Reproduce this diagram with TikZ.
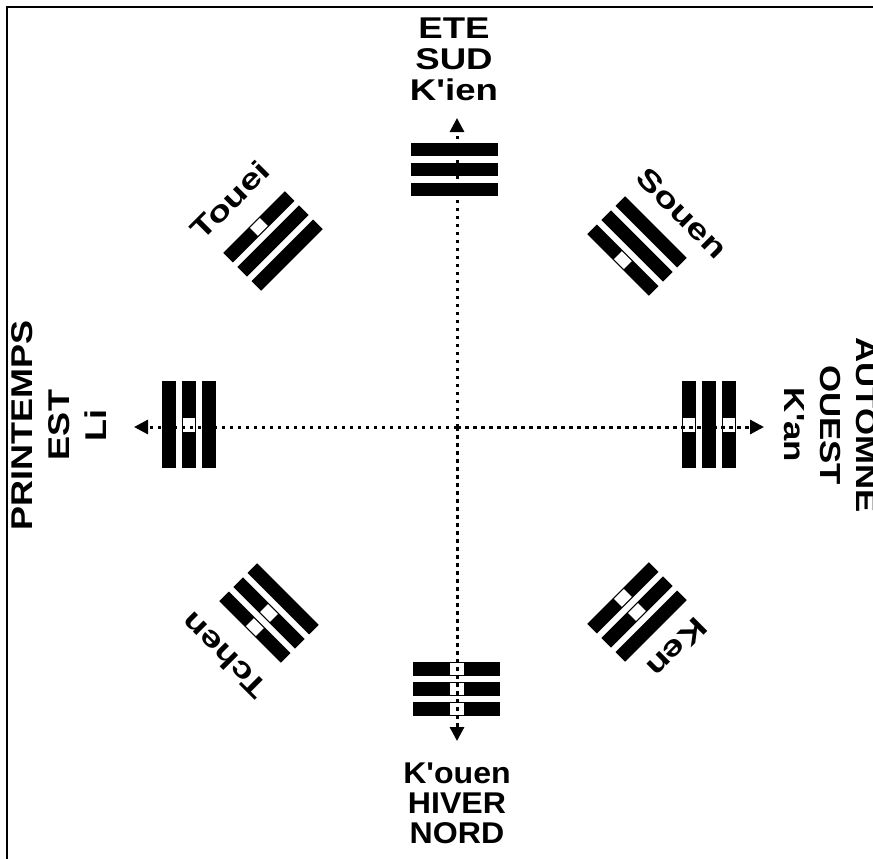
\documentclass[tikz,border=0pt]{standalone}
\usepackage{fontspec}
\setmainfont{Liberation Sans}[Ligatures=TeXOff]
\usetikzlibrary{arrows.meta}
\newcommand\trig[6]{%
  \begin{scope}[shift={(#1,#2)},rotate=#3]
    \foreach \k/\b in {-1/#4,0/#5,1/#6}{
      \fill (-43.5,\k*20-6.8) rectangle (43.5,\k*20+6.8);
      \ifnum\b=0 \fill[white] (-7,\k*20-5.6) rectangle (7,\k*20+5.6);\fi
    }
  \end{scope}}
\begin{document}
\begin{tikzpicture}[x=1pt,y=-1pt]
\useasboundingbox (0,0) rectangle (873,859);
\tikzset{
  lbl/.style={align=center, inner sep=0pt},
  dlbl/.style={font=\bfseries\fontsize{29}{29}\selectfont, inner sep=0pt},
  axis/.style={line width=3pt, dash pattern=on 3.5pt off 4.5pt, -{Triangle[width=14pt,length=14pt]}},
}
\draw[line width=2.2pt] (7,859) -- (7,7) -- (873,7);
% trigrams: outer, middle, inner (1 solid, 0 broken)
\trig{454}{169.5}{0}{1}{1}{1}
\trig{456.5}{689}{180}{0}{0}{0}
\trig{189}{424.5}{90}{1}{0}{1}
\trig{709}{424.5}{-90}{0}{1}{0}
\trig{273}{241}{45}{0}{1}{1}
\trig{637}{246}{-45}{1}{1}{0}
\trig{269}{613}{135}{0}{0}{1}
\trig{637}{612}{-135}{1}{0}{0}
% axes
\coordinate (C) at (457,427);
\coordinate (N) at (457,118);
\coordinate (S) at (457,741);
\coordinate (W) at (134,427);
\coordinate (E) at (764,427);
\draw[axis] (C) -- (N);
\draw[axis] (C) -- (S);
\draw[axis] (C) -- (W);
\draw[axis] (C) -- (E);
% labels
\node[lbl, font=\bfseries\fontsize{30}{31}\selectfont, xscale=1.22] (tN) at (454,59) {ETE\\SUD\\K'ien};
\node[lbl, font=\bfseries\fontsize{30}{30}\selectfont, xscale=1.07] (tS) at (457,803) {K'ouen\\HIVER\\NORD};
\node[lbl, font=\bfseries\fontsize{30}{37}\selectfont, rotate=90, xscale=1.2] (tW) at (59,425) {PRINTEMPS\\EST\\Li};
\node[lbl, font=\bfseries\fontsize{29}{36}\selectfont, rotate=-90, xscale=1.2] (tE) at (830,425) {AUTOMNE\\OUEST\\K'an};
\node[dlbl, rotate=45, xscale=1.3] (tTouei) at (230,200) {Touei};
\node[dlbl, rotate=-45, xscale=1.3] (tSouen) at (682,213) {Souen};
\node[dlbl, rotate=135, xscale=1.3] (tTchen) at (224,656) {Tchen};
\node[dlbl, rotate=-135, xscale=1.3] (tKen) at (677,648) {Ken};
\end{tikzpicture}
\end{document}
